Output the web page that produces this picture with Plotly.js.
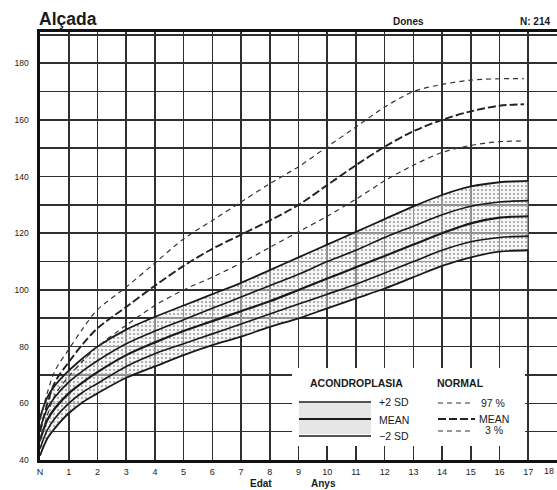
<!DOCTYPE html>
<html><head><meta charset="utf-8">
<script src="https://cdn.plot.ly/plotly-3.0.1.min.js"></script>
<style>html,body{margin:0;padding:0;background:#fff;}#chart{width:557px;height:490px;}</style>
</head><body><div id="chart"></div>
<script>
// Achondroplasia (girls) reference: ages in years, heights in cm
const achAges = [0, 0.25, 0.5, 1, 1.5, 2, 3, 4, 5, 6, 7, 8, 9, 10, 11, 12, 13, 14, 15, 16, 17];
const achP2SD = [55, 62, 66, 71.5, 76, 80, 86, 90.5, 94.5, 98.5, 102.5, 107, 111.5, 116, 120.5, 125, 129.5, 133.5, 136.5, 138, 138.5];
const achP1SD = [51, 58, 62, 67.5, 71.5, 75, 81, 85.5, 89.5, 93.5, 97.5, 101.5, 105.5, 110, 114, 118.5, 122.5, 126.5, 129.5, 131, 131.5];
const achMean = [47, 54, 58, 63.5, 67.5, 71, 77, 81.5, 85.5, 89, 92.5, 96, 100, 104, 108, 112, 116, 120, 123.5, 125.5, 126];
const achM1SD = [44, 50.5, 54.5, 60, 64, 67, 73, 77.5, 81, 84.5, 88, 91.5, 95, 98.5, 102, 106, 110, 114, 117, 118.5, 119];
const achM2SD = [41.5, 47.5, 51, 56.5, 60.5, 63.5, 69, 73, 77, 80.5, 83.5, 87, 90, 93.5, 97, 100.5, 104.5, 108.5, 111.5, 113.5, 114];

// Normal population (girls)
const normAges = [0, 0.5, 1, 1.5, 2, 3, 4, 5, 6, 7, 8, 9, 10, 11, 12, 13, 14, 15, 16, 16.85];
const norm97 = [54, 71, 79, 86.5, 93, 101, 109.5, 118, 124.5, 131, 137.5, 143.5, 150.5, 157.5, 164.5, 170, 172.5, 174, 174.5, 174.5];
const normMean = [50, 67, 74.5, 81, 86.5, 94, 101.5, 108.5, 114.5, 119.5, 124.5, 130, 137, 144, 150.5, 156, 160, 163, 165, 165.5];
const norm3 = [46.5, 62.5, 69.5, 75, 80, 87.5, 94.5, 100, 104.5, 109.5, 115, 120.5, 126, 132, 138.5, 144, 148.5, 151, 152.3, 152.5];

const xTickVals = [0,1,2,3,4,5,6,7,8,9,10,11,12,13,14,15,16,17];
const xTickText = ['N','1','2','3','4','5','6','7','8','9','10','11','12','13','14','15','16','17'];
const xLastLabel = '18';
const yTickVals = [40,60,80,100,120,140,160,180];

const FONT = 'Liberation Sans, Arial, Helvetica, sans-serif';
const INK = '#1a1a1a';
const SM = 0.9;

const traces = [
  {x: achAges, y: achM2SD, mode: 'lines', line: {color: INK, width: 1.8, shape: 'spline', smoothing: SM}, hoverinfo: 'skip'},
  {x: achAges, y: achP2SD, mode: 'lines', line: {color: INK, width: 1.8, shape: 'spline', smoothing: SM}, fill: 'tonexty',
   fillcolor: 'rgba(228,228,228,0.5)',
   fillpattern: {shape: '.', fgcolor: '#a0a0a0', bgcolor: 'rgba(238,238,238,0.5)', size: 4, solidity: 0.22},
   hoverinfo: 'skip'},
  {x: achAges, y: achP1SD, mode: 'lines', line: {color: INK, width: 1.6, shape: 'spline', smoothing: SM}, hoverinfo: 'skip'},
  {x: achAges, y: achMean, mode: 'lines', line: {color: INK, width: 2.2, shape: 'spline', smoothing: SM}, hoverinfo: 'skip'},
  {x: achAges, y: achM1SD, mode: 'lines', line: {color: INK, width: 1.6, shape: 'spline', smoothing: SM}, hoverinfo: 'skip'},
  {x: normAges, y: norm97, mode: 'lines', line: {color: '#333', width: 1.2, dash: '5px,4px', shape: 'spline', smoothing: SM}, hoverinfo: 'skip'},
  {x: normAges, y: normMean, mode: 'lines', line: {color: '#222', width: 1.9, dash: '8px,3px', shape: 'spline', smoothing: SM}, hoverinfo: 'skip'},
  {x: normAges, y: norm3, mode: 'lines', line: {color: '#333', width: 1.2, dash: '5px,4px', shape: 'spline', smoothing: SM}, hoverinfo: 'skip'}
];

const txt = (t, x, y, size, opts) => Object.assign({
  text: t, x: x, y: y, xref: 'paper', yref: 'paper', showarrow: false,
  font: {family: FONT, size: size, color: INK}, xanchor: 'center', yanchor: 'middle'
}, opts || {});

// paper coordinate helpers (plot area: x 40..557, y 32..460 px)
const PL = 40, PR = 557, PT = 32, PB = 460;
const px = v => (v - PL) / (PR - PL);
const py = v => (PB - v) / (PB - PT);

const shapes = [
  {type: 'rect', xref: 'paper', yref: 'paper', x0: px(292), x1: px(525), y0: py(446), y1: py(368),
   fillcolor: '#fff', line: {width: 0}, layer: 'above'},
  // achondroplasia legend samples
  {type: 'rect', xref: 'paper', yref: 'paper', x0: px(299), x1: px(371), y0: py(434), y1: py(403),
   fillcolor: 'rgba(220,220,220,0.7)', line: {width: 0}, layer: 'above'},
  {type: 'line', xref: 'paper', yref: 'paper', x0: px(299), x1: px(371), y0: py(402), y1: py(402), line: {color: INK, width: 1.6}, layer: 'above'},
  {type: 'line', xref: 'paper', yref: 'paper', x0: px(299), x1: px(371), y0: py(419), y1: py(419), line: {color: INK, width: 2}, layer: 'above'},
  {type: 'line', xref: 'paper', yref: 'paper', x0: px(299), x1: px(371), y0: py(436), y1: py(436), line: {color: INK, width: 1.6}, layer: 'above'},
  // normal legend samples
  {type: 'line', xref: 'paper', yref: 'paper', x0: px(438), x1: px(473), y0: py(403), y1: py(403), line: {color: '#333', width: 1.2, dash: '5px,4px'}, layer: 'above'},
  {type: 'line', xref: 'paper', yref: 'paper', x0: px(438), x1: px(475), y0: py(419), y1: py(419), line: {color: '#222', width: 1.9, dash: '8px,3px'}, layer: 'above'},
  {type: 'line', xref: 'paper', yref: 'paper', x0: px(438), x1: px(473), y0: py(431), y1: py(431), line: {color: '#333', width: 1.2, dash: '5px,4px'}, layer: 'above'}
];

const annotations = [
  txt('<b>Alçada</b>', px(37), py(19), 17.5, {xanchor: 'left'}),
  txt('<b>Dones</b>', px(408), py(22), 10),
  txt('<b>N: 214</b>', px(535), py(22), 10),
  txt('<b>ACONDROPLASIA</b>', px(356), py(383), 10.5),
  txt('<b>NORMAL</b>', px(460), py(383), 10.5),
  txt('+2 SD', px(377), py(402), 10.5, {xanchor: 'left'}),
  txt('MEAN', px(377), py(420), 10.5, {xanchor: 'left'}),
  txt('−2 SD', px(377), py(436), 10.5, {xanchor: 'left'}),
  txt('97 %', px(479), py(403), 10.5, {xanchor: 'left'}),
  txt('MEAN', px(477), py(419), 10.5, {xanchor: 'left'}),
  txt('3 %', px(483), py(430), 10.5, {xanchor: 'left'}),
  txt(xLastLabel, px(556), py(471), 9, {xanchor: 'right'}),
  txt('<b>Edat</b>', px(261), py(483), 10),
  txt('<b>Anys</b>', px(323), py(483), 10)
];

const layout = {
  width: 557, height: 490,
  margin: {l: PL, r: 0, t: PT, b: 490 - PB},
  paper_bgcolor: '#fff', plot_bgcolor: '#fff',
  showlegend: false,
  font: {family: FONT, color: INK},
  xaxis: {
    range: [0, 18], tickvals: xTickVals, ticktext: xTickText, ticks: '',
    showgrid: true, gridcolor: '#303030', gridwidth: 1.6,
    showline: true, linecolor: '#111', linewidth: 3, mirror: true,
    zeroline: false, tickfont: {family: FONT, size: 9, color: INK}, ticklabelstandoff: 1,
    fixedrange: true
  },
  yaxis: {
    range: [40, 191], tickvals: yTickVals, ticks: '',
    showgrid: false,
    showline: true, linecolor: '#111', linewidth: 3.5, mirror: true,
    zeroline: false, tickfont: {family: FONT, size: 8.5, color: INK}, ticklabelstandoff: 6,
    fixedrange: true
  },
  yaxis2: {
    overlaying: 'y', range: [40, 191], tickmode: 'linear', tick0: 40, dtick: 10,
    showticklabels: false, ticks: '', showgrid: true, gridcolor: '#303030', gridwidth: 1.6,
    zeroline: false, fixedrange: true
  },
  shapes: shapes,
  annotations: annotations
};

// invisible trace to activate the 10-cm grid axis
traces.unshift({x: [0], y: [40], yaxis: 'y2', mode: 'markers', marker: {opacity: 0}, hoverinfo: 'skip'});

Plotly.newPlot('chart', traces, layout, {staticPlot: true});
</script></body></html>
